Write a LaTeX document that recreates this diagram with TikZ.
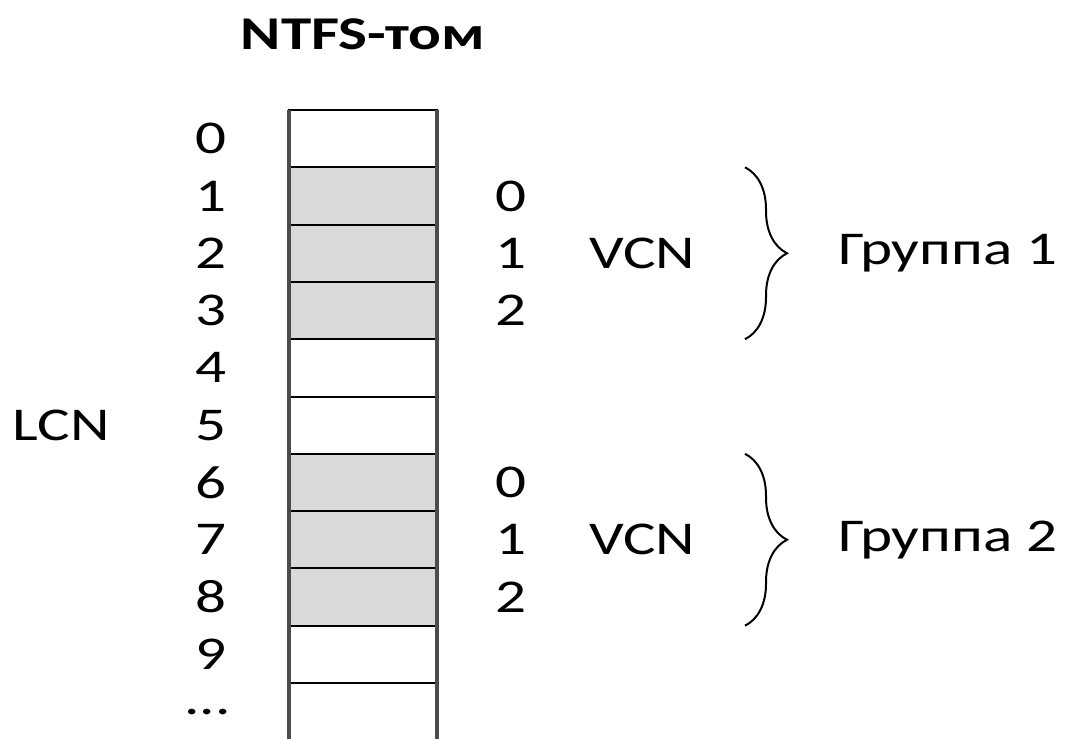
\documentclass[tikz,border=0pt]{standalone}
\usepackage{fontspec}
\setmainfont{Carlito}[FakeStretch=1.3]
\usetikzlibrary{positioning, decorations.pathreplacing}

\begin{document}
\begin{tikzpicture}[x=0.5pt, y=-0.5pt, font=\fontsize{23.5}{28}\selectfont]
  \tikzset{
    cell/.style={draw, line width=1pt, minimum width=74pt, minimum height=28.65pt, inner sep=0pt, outer sep=0pt},
    used/.style={cell, fill=gray!30},
    lbl/.style={inner sep=0pt},
    grpbrace/.style={decorate, decoration={brace, amplitude=21pt}, line width=1pt},
  }
  \useasboundingbox (0,0) rectangle (1068,738);

  % Clusters of the volume
  \foreach \i in {0,...,10} {
    \ifnum\i>0 \ifnum\i<4 \def\kind{used}\else\ifnum\i>5 \ifnum\i<9 \def\kind{used}\else\def\kind{cell}\fi\else\def\kind{cell}\fi\fi\else\def\kind{cell}\fi
    \node[\kind] (cell\i) at (363, {110+57.3*(\i+0.5)}) {};
  }
  \draw[gray!60!black, line width=2pt] (cell0.north west) -- ([yshift=-40pt]cell10.south west);
  \draw[gray!60!black, line width=2pt] (cell0.north east) -- ([yshift=-40pt]cell10.south east);

  % LCN numbers
  \foreach \i in {0,...,9} {
    \node[lbl, minimum width=20pt, left=29pt of cell\i] (lcn\i) {\i};
  }
  \node[lbl, minimum width=20pt, left=29pt of cell10] (lcn10) {...};
  \node[lbl, left=40pt of lcn5] (lcn) {LCN};

  % Title
  \node[lbl, above=30pt of cell0, font=\fontsize{23.5}{28}\selectfont\bfseries] (title) {NTFS-том};

  % VCN numbers
  \foreach \i/\v in {1/0, 2/1, 3/2, 6/0, 7/1, 8/2} {
    \node[lbl, right=29pt of cell\i] (vcn\i) {\v};
  }
  \node[lbl, right=31pt of vcn2] (vcnA) {VCN};
  \node[lbl, right=31pt of vcn7] (vcnB) {VCN};

  % Groups
  \coordinate (g1top) at ([xshift=154pt]cell1.north east);
  \coordinate (g1bot) at ([xshift=154pt]cell3.south east);
  \coordinate (g2top) at ([xshift=154pt]cell6.north east);
  \coordinate (g2bot) at ([xshift=154pt]cell8.south east);
  \draw[grpbrace] (g1top) -- (g1bot) node[midway, anchor=west, xshift=46pt, inner sep=0pt] (grp1) {Группа 1};
  \draw[grpbrace] (g2top) -- (g2bot) node[midway, anchor=west, xshift=46pt, inner sep=0pt] (grp2) {Группа 2};
\end{tikzpicture}
\end{document}
